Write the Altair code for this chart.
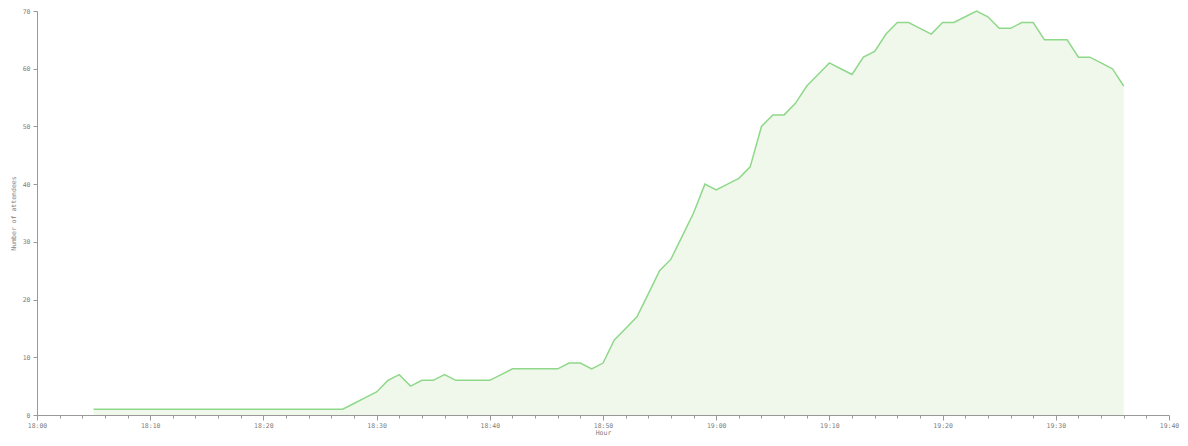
import altair as alt
import pandas as pd

# minutes after 18:00, one sample per minute from 18:05 to 19:36
start_minute = 5
attendees = [
    1, 1, 1, 1, 1, 1, 1, 1, 1, 1, 1, 1, 1, 1, 1, 1, 1, 1, 1, 1, 1, 1, 1,  # 18:05-18:27
    2, 3, 4, 6, 7, 5, 6, 6, 7, 6, 6, 6, 6,                                # 18:28-18:40
    7, 8, 8, 8, 8, 8, 9, 9, 8, 9,                                         # 18:41-18:50
    13, 15, 17, 21, 25, 27, 31, 35, 40,                                   # 18:51-18:59
    39, 40, 41, 43, 50, 52, 52, 54, 57, 59,                               # 19:00-19:09
    61, 60, 59, 62, 63, 66, 68, 68, 67, 66,                               # 19:10-19:19
    68, 68, 69, 70, 69, 67, 67, 68, 68, 65,                               # 19:20-19:29
    65, 65, 62, 62, 61, 60, 57,                                           # 19:30-19:36
]
minutes = list(range(start_minute, start_minute + len(attendees)))
x_tick_values = list(range(0, 101, 2))
y_tick_values = [0, 10, 20, 30, 40, 50, 60, 70]

df = pd.DataFrame({"minute": minutes, "attendees": attendees})

FONT = "DejaVu Sans Mono"
label_expr = (
    "datum.value % 10 === 0 ? "
    "(18 + floor(datum.value / 60)) + ':' + "
    "(datum.value % 60 < 10 ? '0' : '') + (datum.value % 60) : ''"
)

x = alt.X(
    "minute:Q",
    title="Hour",
    scale=alt.Scale(domain=[0, 100], nice=False, zero=False),
    axis=alt.Axis(
        values=x_tick_values,
        labelExpr=label_expr,
        tickSize={"condition": {"test": "datum.value % 10 === 0", "value": 5}, "value": 3},
        labelFlush=False,
        labelOverlap=False,
        labelPadding=2,
        titlePadding=1,
    ),
)
y = alt.Y(
    "attendees:Q",
    title="Number of attendees",
    scale=alt.Scale(domain=[0, 70], nice=False),
    axis=alt.Axis(values=y_tick_values, tickSize=4, labelPadding=3, titlePadding=6),
)

area = alt.Chart(df).mark_area(color="#eff8ea", opacity=1).encode(x=x, y=y)
line = alt.Chart(df).mark_line(color="#8fd88a", strokeWidth=1.5).encode(x=x, y=y)

chart = (
    alt.layer(area, line)
    .properties(
        width=1132,
        height=404,
        autosize=alt.AutoSizeParams(type="none"),
        padding={"left": 29, "top": 3, "right": 11, "bottom": 23},
    )
    .configure_view(stroke=None)
    .configure_axis(
        grid=False,
        domainColor="#999999",
        tickColor="#999999",
        labelColor="#808080",
        titleColor="#808080",
        labelFont=FONT,
        titleFont=FONT,
        labelFontSize=6.5,
        titleFontSize=6.5,
        titleFontWeight="normal",
    )
)

chart.save("out.html", embed_options={"renderer": "svg", "actions": False})
